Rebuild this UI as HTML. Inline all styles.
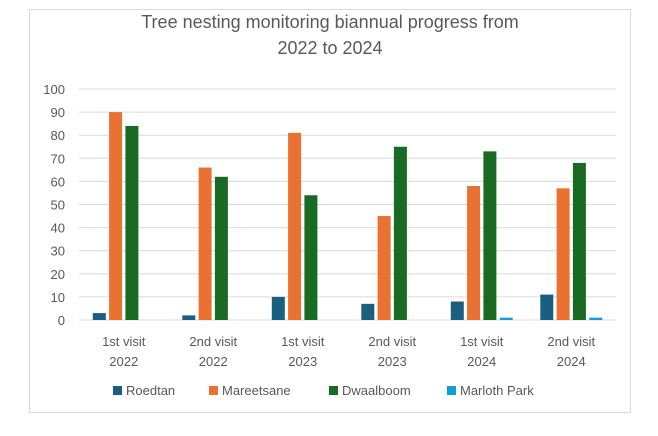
<!DOCTYPE html>
<html><head><meta charset="utf-8"><style>
body{margin:0;background:#fff;width:658px;height:431px;overflow:hidden;font-family:"Liberation Sans",sans-serif}
svg text{font-family:"Liberation Sans",sans-serif;fill:#595959}
</style></head><body>
<svg width="658" height="431">
<rect x="29.5" y="9.5" width="601" height="403" fill="#fff" stroke="#d9d9d9"/>
<text x="330" y="28" font-size="18" text-anchor="middle">Tree nesting monitoring biannual progress from</text>
<text x="330" y="54" font-size="18" text-anchor="middle">2022 to 2024</text>
<g id="grid"></g><g id="bars"></g><g id="labels"></g>
<g font-size="13">
<rect x="113" y="386" width="9" height="9" fill="#1a5e82"/><text x="126" y="395">Roedtan</text>
<rect x="209" y="386" width="9" height="9" fill="#e97132"/><text x="222" y="395">Mareetsane</text>
<rect x="329" y="386" width="9" height="9" fill="#196b24"/><text x="342" y="395">Dwaalboom</text>
<rect x="447" y="386" width="9" height="9" fill="#0f9ed5"/><text x="460" y="395">Marloth Park</text>
</g>
</svg>
<script>
const categories=[["1st visit","2022"],["2nd visit","2022"],["1st visit","2023"],["2nd visit","2023"],["1st visit","2024"],["2nd visit","2024"]];
const roedtan=[3,2,10,7,8,11];
const mareetsane=[90,66,81,45,58,57];
const dwaalboom=[84,62,54,75,73,68];
const marlothPark=[0,0,0,0,1,1];
const yTicks=[0,10,20,30,40,50,60,70,80,90,100];
const NS="http://www.w3.org/2000/svg";
const x0=79,x1=616,y0=320,y1=89;
const yS=v=>y0-(v/100)*(y0-y1);
const cw=(x1-x0)/categories.length;
function mk(t,a,p){const e=document.createElementNS(NS,t);for(const k in a)e.setAttribute(k,a[k]);p.appendChild(e);return e;}
const grid=document.getElementById('grid'),bars=document.getElementById('bars'),labels=document.getElementById('labels');
yTicks.forEach(v=>{
 const l=mk('line',{x1:x0,x2:x1,y1:yS(v),y2:yS(v),stroke:'#d9d9d9','stroke-width':1},grid);
 
 
 const t=mk('text',{x:65,y:yS(v)+5,'font-size':13,'text-anchor':'end'},labels);
 t.textContent=v;
 
 
});
const series=[[roedtan,'#1a5e82','roedtan'],[mareetsane,'#e97132','mareetsane'],[dwaalboom,'#196b24','dwaalboom'],[marlothPark,'#0f9ed5','marloth-park']];
const bw=13,st=16.3;
categories.forEach((c,i)=>{
 const cx=x0+cw*(i+0.5),start=cx-st*2+1.65;
 series.forEach((s,j)=>{
  const v=s[0][i];if(v<=0)return;
  const r=mk('rect',{x:start+j*st,y:yS(v),width:bw,height:y0-yS(v),fill:s[1]},bars);
  
  
 });
 c.forEach((ln,k)=>{
  const t=mk('text',{x:cx,y:346+k*20,'font-size':13,'text-anchor':'middle'},labels);
  t.textContent=ln;
  
  
 });
});
</script>
</body></html>
